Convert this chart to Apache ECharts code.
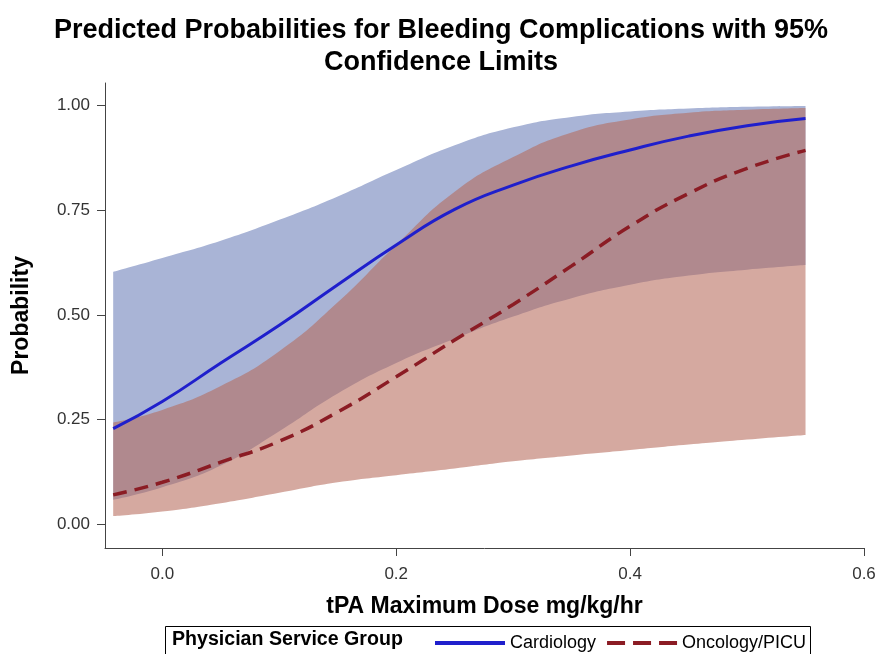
<!DOCTYPE html>
<html>
<head>
<meta charset="utf-8">
<script src="https://cdn.jsdelivr.net/npm/echarts@6/dist/echarts.min.js"></script>
<style>html,body{margin:0;padding:0;background:#fff;}#chart{width:882px;height:654px;}</style>
</head>
<body>
<div id="chart"></div>
<script>
// Data
const xValues     = [-0.042, 0.00, 0.05, 0.10, 0.15, 0.20, 0.25, 0.30, 0.35, 0.40, 0.45, 0.50, 0.55];
const cardioMean  = [0.228, 0.293, 0.385, 0.475, 0.572, 0.667, 0.752, 0.810, 0.856, 0.894, 0.927, 0.952, 0.969];
const cardioLower = [0.058, 0.088, 0.140, 0.222, 0.312, 0.385, 0.443, 0.496, 0.540, 0.572, 0.594, 0.608, 0.619];
const cardioUpper = [0.603, 0.636, 0.677, 0.727, 0.783, 0.846, 0.905, 0.948, 0.973, 0.986, 0.993, 0.997, 0.999];
const oncMean     = [0.070, 0.100, 0.148, 0.198, 0.268, 0.352, 0.440, 0.525, 0.617, 0.712, 0.790, 0.850, 0.893];
const oncLower    = [0.019, 0.030, 0.050, 0.075, 0.100, 0.117, 0.133, 0.150, 0.164, 0.177, 0.190, 0.202, 0.213];
const oncUpper    = [0.243, 0.273, 0.330, 0.413, 0.530, 0.667, 0.794, 0.877, 0.936, 0.967, 0.983, 0.990, 0.994];
const xTicks = [0, 0.2, 0.4, 0.6];
const yTicks = [0, 0.25, 0.5, 0.75, 1.0];
const seriesNames = ['Cardiology', 'Oncology/PICU'];

// rows are [y, x] so that stacking acts on the y value
function rows(ys) { return ys.map((y, i) => [y, xValues[i]]); }
function diff(hi, lo) { return hi.map((v, i) => v - lo[i]); }

const chart = echarts.init(document.getElementById('chart'), null, {renderer: 'canvas'});
const enc = {x: 1, y: 0};
const FONT = '"Liberation Sans", Arial, sans-serif';

chart.setOption({
  animation: false,
  backgroundColor: '#ffffff',
  title: {
    text: 'Predicted Probabilities for Bleeding Complications with 95%\nConfidence Limits',
    left: 'center',
    top: 10,
    textStyle: {fontFamily: FONT, fontWeight: 'bold', fontSize: 27, lineHeight: 32, color: '#000'}
  },
  grid: {left: 105, right: 18, top: 83, bottom: 106, containLabel: false, outerBoundsMode: 'none'},
  xAxis: {
    type: 'value', min: -0.049, max: 0.6,
    name: 'tPA Maximum Dose mg/kg/hr', nameLocation: 'middle', nameGap: 47,
    nameTextStyle: {fontFamily: FONT, fontWeight: 'bold', fontSize: 23, color: '#000'},
    axisLine: {show: true, onZero: false, lineStyle: {color: '#444', width: 1}},
    axisTick: {show: true, length: 8, customValues: xTicks, lineStyle: {color: '#444'}},
    axisLabel: {customValues: xTicks, margin: 18, fontFamily: FONT, fontSize: 17, color: '#333',
      formatter: v => v.toFixed(1)},
    splitLine: {show: false}
  },
  yAxis: {
    type: 'value', min: -0.057, max: 1.054,
    name: 'Probability', nameLocation: 'middle', nameGap: 72,
    nameTextStyle: {fontFamily: FONT, fontWeight: 'bold', fontSize: 23, color: '#000'},
    axisLine: {show: true, onZero: false, lineStyle: {color: '#444', width: 1}},
    axisTick: {show: true, length: 8, customValues: yTicks, lineStyle: {color: '#444'}},
    axisLabel: {customValues: yTicks, margin: 15, fontFamily: FONT, fontSize: 17, color: '#333',
      formatter: v => v.toFixed(2)},
    splitLine: {show: false}
  },
  legend: {
    data: [
      {name: seriesNames[0], lineStyle: {width: 4}},
      {name: seriesNames[1], lineStyle: {width: 4, type: [18, 8]}}
    ],
    left: 428, top: 629,
    itemWidth: 70, itemHeight: 14, itemGap: 9,
    itemStyle: {opacity: 0},
    textStyle: {fontFamily: FONT, fontSize: 18, color: '#000'}
  },
  graphic: [
    {type: 'rect', shape: {x: 165.5, y: 626.5, width: 645, height: 28},
      style: {fill: 'none', stroke: '#000', lineWidth: 1}, z: 10},
    {type: 'text', x: 172, y: 640,
      style: {text: 'Physician Service Group', fontFamily: FONT, fontWeight: 'bold', fontSize: 19.6,
        fill: '#000', verticalAlign: 'middle'}, z: 10}
  ],
  series: [
    {name: 'cardioLo', type: 'line', stack: 'cardio', data: rows(cardioLower), encode: enc,
      smooth: true, symbol: 'none', lineStyle: {opacity: 0}, z: 1, silent: true},
    {name: 'cardioBand', type: 'line', stack: 'cardio', data: rows(diff(cardioUpper, cardioLower)), encode: enc,
      smooth: true, symbol: 'none', lineStyle: {opacity: 0}, areaStyle: {color: '#a9b4d6', opacity: 1}, z: 1, silent: true},
    {name: 'oncLo', type: 'line', stack: 'onc', data: rows(oncLower), encode: enc,
      smooth: true, symbol: 'none', lineStyle: {opacity: 0}, z: 2, silent: true},
    {name: 'oncBand', type: 'line', stack: 'onc', data: rows(diff(oncUpper, oncLower)), encode: enc,
      smooth: true, symbol: 'none', lineStyle: {opacity: 0}, areaStyle: {color: 'rgb(181,104,88)', opacity: 0.57}, z: 2, silent: true},
    {name: seriesNames[0], type: 'line', data: rows(cardioMean), encode: enc, smooth: true, symbol: 'none',
      color: '#1f1fcc', lineStyle: {color: '#1f1fcc', width: 3}, z: 5},
    {name: seriesNames[1], type: 'line', data: rows(oncMean), encode: enc, smooth: true, symbol: 'none',
      color: '#8b1c24', lineStyle: {color: '#8b1c24', width: 3.5, type: [14, 8]}, z: 5}
  ]
});
</script>
</body>
</html>
